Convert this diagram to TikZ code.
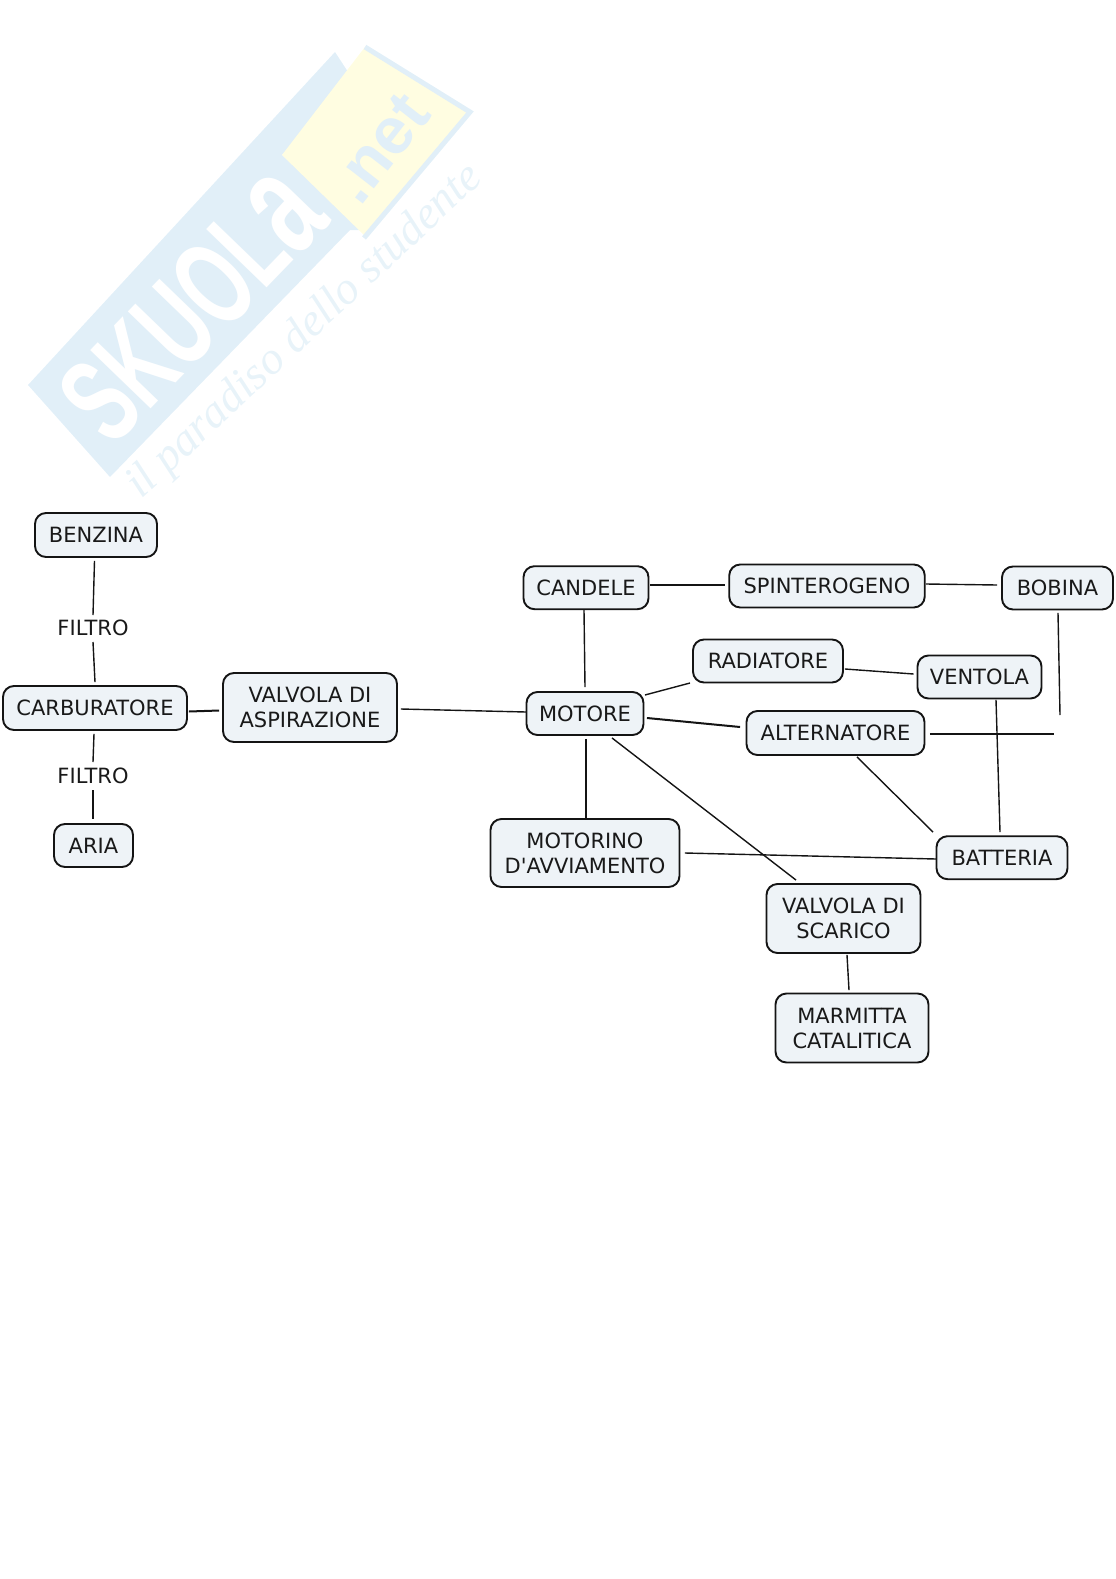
\documentclass[tikz,border=0pt]{standalone}
\usepackage{fontspec}
\setmainfont{DejaVu Sans}
\newfontfamily\plainfont{DejaVu Sans}
\newfontfamily\wmbold{Liberation Sans}[BoldFont={Liberation Sans Bold}]
\newfontfamily\wmscript{Liberation Serif}[ItalicFont={Liberation Serif Italic}]
\definecolor{boxfill}{HTML}{EEF3F7}
\definecolor{wmblue}{HTML}{E1EFF8}
\definecolor{wmpale}{HTML}{E8F3F9}
\definecolor{wmyellow}{HTML}{FFFDE1}
\definecolor{inkline}{HTML}{141414}
\tikzset{
  every node/.style={font=\fontsize{21}{25}\selectfont, text=black!90},
  concept/.style={draw=inkline, line width=1.9pt, fill=boxfill, rounded corners=11pt, align=center, inner sep=0pt},
  tag/.style={inner sep=0pt},
  link/.style={draw=inkline, line width=1.4pt},
  heavy/.style={draw=inkline, line width=2pt},
  wm/.style={inner sep=0pt, rotate=46}
}
\begin{document}
\begin{tikzpicture}[x=1pt,y=-1pt]
\useasboundingbox (0,0) rectangle (1116,1579);
% watermark
\fill[wmblue] (28,385) -- (335,52) -- (350,75) -- (282,155) -- (365,230) -- (350,230) -- (110,477) -- cycle;
\fill[wmyellow] (282,155) -- (365,47) -- (470,112) -- (364,235) -- cycle;
\draw[wmblue, line width=5pt, line join=miter] (365,47) -- (470,112) -- (364,238);
\node[wm, text=white, font=\wmbold\bfseries\fontsize{122}{122}\selectfont, xscale=.62] (wmname) at (192,306) {SKUOL{\fontsize{150}{150}\selectfont a}};
\node[wm, text=wmblue, font=\wmbold\bfseries\fontsize{66}{66}\selectfont, rotate=6] (wmnet) at (380,148) {.net};
\node[wm, text=wmpale, font=\wmscript\itshape\fontsize{46}{46}\selectfont, rotate=-3] (wmtag) at (305,332) {il paradiso dello studente};

% concepts
\node[concept, minimum width=122pt, minimum height=44pt] (benz) at (96,535) {\raisebox{-1pt}{BENZINA}};
\node[concept, minimum width=184pt, minimum height=44pt] (carb) at (95,708) {CARBURATORE};
\node[concept, minimum width=174pt, minimum height=69pt] (vasp) at (310,707.5) {VALVOLA DI\\ASPIRAZIONE};
\node[concept, minimum width=79pt, minimum height=43pt] (aria) at (93.5,845.5) {ARIA};
\node[tag] (f1) at (93,628) {FILTRO};
\node[tag] (f2) at (93,776) {FILTRO};
\node[concept, minimum width=125pt, minimum height=43pt] (cand) at (586,587.7) {CANDELE};
\node[concept, minimum width=195.5pt, minimum height=43pt] (spin) at (827,586) {SPINTEROGENO};
\node[concept, minimum width=111pt, minimum height=43pt] (bob) at (1057.5,588) {BOBINA};
\node[concept, minimum width=150pt, minimum height=43pt] (rad) at (768,661) {RADIATORE};
\node[concept, minimum width=124pt, minimum height=43pt] (vent) at (979.5,677) {VENTOLA};
\node[concept, minimum width=117pt, minimum height=43pt] (mot) at (585,713.5) {MOTORE};
\node[concept, minimum width=178pt, minimum height=44pt] (alt) at (835.5,733) {ALTERNATORE};
\node[concept, minimum width=189pt, minimum height=68pt] (avv) at (585,853) {MOTORINO\\D{\plainfont '}AVVIAMENTO};
\node[concept, minimum width=131pt, minimum height=43pt] (batt) at (1002,857.7) {BATTERIA};
\node[concept, minimum width=154pt, minimum height=69pt] (vsc) at (843.5,918.5) {VALVOLA DI\\SCARICO};
\node[concept, minimum width=153pt, minimum height=69pt] (marm) at (852,1028) {MARMITTA\\CATALITICA};
\coordinate (bfree) at (1060,715);
\coordinate (afree) at (1053.5,734);

% connectors
\draw[link] ([shift={(-1.5,3)}]benz.south) -- ([shift={(0,-13)}]f1.center);
\draw[link] ([shift={(0,14)}]f1.center) -- ([shift={(0,-3)}]carb.north);
\draw[link] ([shift={(-1,3)}]carb.south) -- ([shift={(0,-14)}]f2.center);
\draw[heavy] ([shift={(0,14)}]f2.center) -- ([shift={(-.5,-4)}]aria.north);
\draw[heavy] ([shift={(1,3.5)}]carb.east) -- ([shift={(-3,3)}]vasp.west);
\draw[link] ([shift={(3,1.5)}]vasp.east) -- ([shift={(.5,-1.5)}]mot.west);
\draw[link] ([shift={(-2,0)}]cand.south) -- ([shift={(0,-4)}]mot.north);
\draw[link] ([shift={(.5,-2.7)}]cand.east) -- ([shift={(-3.25,-1)}]spin.west);
\draw[link] ([shift={(.25,-2)}]spin.east) -- ([shift={(-4,-3)}]bob.west);
\draw[link] ([shift={(.5,2.5)}]bob.south) -- (bfree);
\draw[link] ([shift={(1,8)}]rad.east) -- ([shift={(-3,-3)}]vent.west);
\draw[link] ([shift={(.5,-18.5)}]mot.east) -- ([shift={(-2,22)}]rad.west);
\draw[heavy] ([shift={(2.5,4.5)}]mot.east) -- ([shift={(-5.5,-6)}]alt.west);
\draw[heavy] ([shift={(4.5,1)}]alt.east) -- (afree);
\draw[link] ([shift={(21.5,1)}]alt.south) -- ([shift={(-69,-3.2)}]batt.north);
\draw[link] ([shift={(16.5,.5)}]vent.south) -- ([shift={(-2,-3.2)}]batt.north);
\draw[heavy] ([shift={(1,3)}]mot.south) -- ([shift={(1,0)}]avv.north);
\draw[link] ([shift={(27,2)}]mot.south) -- ([shift={(-47.5,-3)}]vsc.north);
\draw[link] ([shift={(4.5,0)}]avv.east) -- ([shift={(.5,1.3)}]batt.west);
\draw[link] ([shift={(3.5,1)}]vsc.south) -- ([shift={(-3,-2.5)}]marm.north);
\end{tikzpicture}
\end{document}
